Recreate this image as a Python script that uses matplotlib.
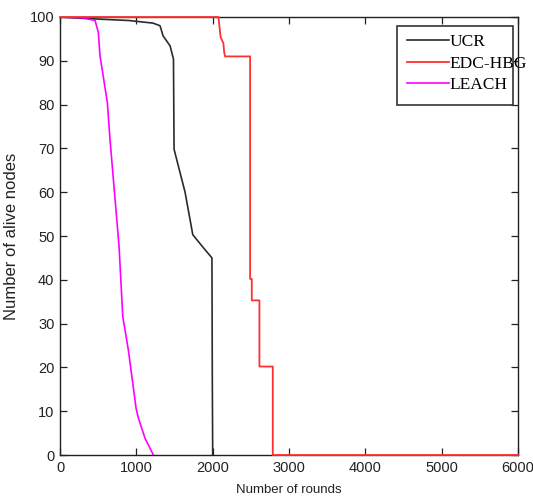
import matplotlib
matplotlib.use("Agg")
import matplotlib.pyplot as plt
from matplotlib.patches import Rectangle

# UCR
ucr_x = [0, 300, 524, 900, 1219, 1310, 1350, 1442, 1486, 1494, 1638, 1739, 1874, 1990, 1995, 2000]
ucr_y = [100, 99.7, 99.5, 99.2, 98.6, 98.0, 95.7, 93.4, 90.4, 69.8, 60.0, 50.3, 47.4, 45.0, 17.0, 0]

# EDC-HBG
edc_x = [0, 2075, 2100, 2106, 2140, 2150, 2162, 2490, 2490, 2512, 2512, 2612, 2612, 2787, 2787, 6000]
edc_y = [100, 100, 96, 95.3, 94, 92, 91, 91, 40.2, 40.2, 35.3, 35.3, 20.2, 20.2, 0, 0]

# LEACH
leach_x = [0, 300, 459, 502, 524, 620, 655, 721, 773, 796, 822, 895, 996, 1027, 1114, 1223]
leach_y = [100, 99.8, 99.2, 96.5, 91.1, 80.5, 72.0, 58.4, 47.7, 40.2, 31.6, 24.0, 10.7, 8.4, 3.8, 0]

x_ticks = [0, 1000, 2000, 3000, 4000, 5000, 6000]
y_ticks = list(range(0, 101, 10))

sans = "Liberation Sans"

fig = plt.figure(figsize=(5.33, 4.97), dpi=100)
ax = fig.add_axes([0.1126, 0.0845, 0.8594, 0.8813])

ax.plot(ucr_x, ucr_y, color="#2b2b2b", lw=1.2, label="UCR")
ax.plot(edc_x, edc_y, color="#ff3030", lw=1.3, label="EDC-HBG", clip_on=False, zorder=3)
ax.plot(leach_x, leach_y, color="#ff00ff", lw=1.2, label="LEACH")

ax.set_xlim(0, 6000)
ax.set_ylim(0, 100)
ax.set_xticks(x_ticks)
ax.set_yticks(y_ticks)
ax.tick_params(direction="in", top=True, right=True, length=5, width=0.9,
               labelsize=10.5, colors="#222222", pad=4)
for lab in ax.get_xticklabels() + ax.get_yticklabels():
    lab.set_family(sans)
for s in ax.spines.values():
    s.set_color("#222222")
    s.set_linewidth(1.0)

ax.set_xlabel("Number of rounds", fontsize=9.5, family=sans, labelpad=7, color="#222222")
ax.set_ylabel("Number of alive nodes", fontsize=12, family=sans, labelpad=8, color="#222222")

# legend box (text overflows it as in the reference)
ax.add_patch(Rectangle((0.736, 0.799), 0.253, 0.180, transform=ax.transAxes,
                       fill=True, facecolor="white", edgecolor="#333333", lw=1.2, zorder=4))
leg = ax.legend(loc="upper left", bbox_to_anchor=(0.758, 0.961),
                prop={"family": "Liberation Serif", "size": 12.5},
                handlelength=2.4, handletextpad=0.05, labelspacing=0.3,
                borderpad=0.0, frameon=False, borderaxespad=0)
leg.set_zorder(5)

fig.savefig("out.png", dpi=100)
